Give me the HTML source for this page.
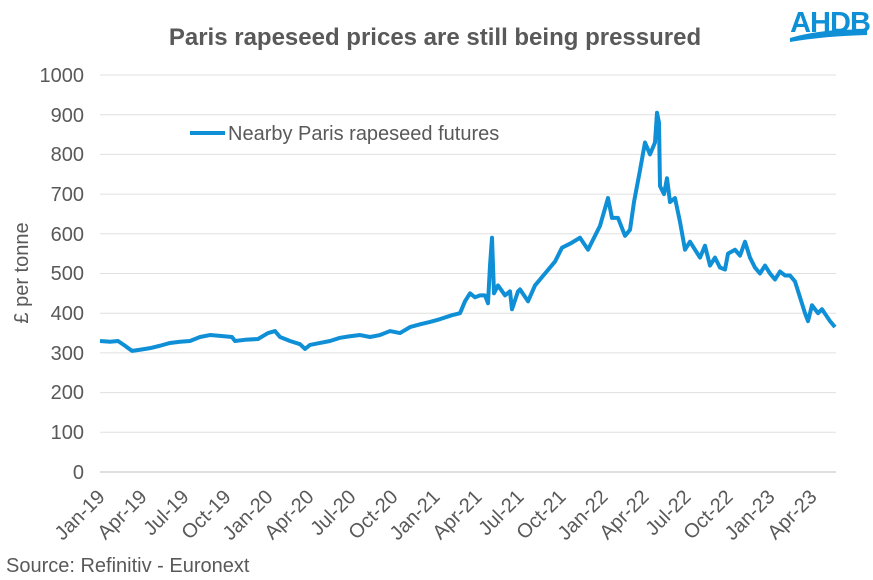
<!DOCTYPE html>
<html><head><meta charset="utf-8"><style>
body{margin:0;background:#fff;}
svg{display:block;font-family:"Liberation Sans",sans-serif;}
</style></head><body>
<svg width="873" height="580" viewBox="0 0 873 580">
<text x="435" y="45" text-anchor="middle" font-size="24" font-weight="bold" fill="#595959">Paris rapeseed prices are still being pressured</text>
<text x="830" y="32" text-anchor="middle" font-size="29" font-weight="bold" fill="#0f8fd6" letter-spacing="-1">AHDB</text>
<path d="M790 38 Q825 28 867 30 L867 35 Q825 36 790 42 Z" fill="#0f8fd6"/>
<g stroke="#e0e0e0" stroke-width="1">
<line x1="100" x2="836" y1="75" y2="75"/><line x1="100" x2="836" y1="114.7" y2="114.7"/><line x1="100" x2="836" y1="154.4" y2="154.4"/><line x1="100" x2="836" y1="194.1" y2="194.1"/><line x1="100" x2="836" y1="233.8" y2="233.8"/><line x1="100" x2="836" y1="273.5" y2="273.5"/><line x1="100" x2="836" y1="313.2" y2="313.2"/><line x1="100" x2="836" y1="352.9" y2="352.9"/><line x1="100" x2="836" y1="392.6" y2="392.6"/><line x1="100" x2="836" y1="432.3" y2="432.3"/>
</g>
<line x1="100" x2="836" y1="472" y2="472" stroke="#bfbfbf"/>
<g font-size="20" fill="#595959" text-anchor="end">
<text x="84" y="82">1000</text><text x="84" y="122">900</text><text x="84" y="161">800</text><text x="84" y="201">700</text><text x="84" y="241">600</text><text x="84" y="280">500</text><text x="84" y="320">400</text><text x="84" y="360">300</text><text x="84" y="399">200</text><text x="84" y="439">100</text><text x="84" y="479">0</text>
</g>
<text transform="translate(28,273) rotate(-90)" text-anchor="middle" font-size="20" fill="#595959">£ per tonne</text>
<g font-size="20" fill="#595959" text-anchor="end">
<text transform="translate(106,498) rotate(-45)">Jan-19</text>
<text transform="translate(148,498) rotate(-45)">Apr-19</text>
<text transform="translate(190,498) rotate(-45)">Jul-19</text>
<text transform="translate(232,498) rotate(-45)">Oct-19</text>
<text transform="translate(274,498) rotate(-45)">Jan-20</text>
<text transform="translate(315,498) rotate(-45)">Apr-20</text>
<text transform="translate(357,498) rotate(-45)">Jul-20</text>
<text transform="translate(399,498) rotate(-45)">Oct-20</text>
<text transform="translate(441,498) rotate(-45)">Jan-21</text>
<text transform="translate(483,498) rotate(-45)">Apr-21</text>
<text transform="translate(525,498) rotate(-45)">Jul-21</text>
<text transform="translate(567,498) rotate(-45)">Oct-21</text>
<text transform="translate(609,498) rotate(-45)">Jan-22</text>
<text transform="translate(650,498) rotate(-45)">Apr-22</text>
<text transform="translate(692,498) rotate(-45)">Jul-22</text>
<text transform="translate(734,498) rotate(-45)">Oct-22</text>
<text transform="translate(776,498) rotate(-45)">Jan-23</text>
<text transform="translate(818,498) rotate(-45)">Apr-23</text>
</g>
<g transform="translate(0,472) scale(1,-0.397)">
<polyline fill="none" stroke="#0f8fd6" stroke-width="4" vector-effect="non-scaling-stroke" stroke-linejoin="round" points="100,330 110,328 118,330 125,318 132,305 140,308 150,312 160,318 170,325 180,328 190,330 200,340 210,345 220,343 232,340 235,330 245,333 258,335 268,350 275,355 280,340 290,330 300,322 305,310 310,320 320,325 330,330 340,338 350,342 360,345 370,340 380,345 390,355 400,350 410,365 420,372 430,378 440,385 452,395 460,400 465,430 470,450 475,440 480,445 485,445 488,425 490,520 492,590 494,450 498,470 505,445 510,455 512,410 518,455 520,460 528,430 535,470 545,500 555,530 562,565 570,575 580,590 588,560 592,580 600,620 608,690 612,640 618,640 625,595 630,610 634,680 640,760 645,830 650,800 655,830 657,905 659,880 660,720 664,700 667,740 670,680 675,690 680,630 685,560 690,580 695,560 700,540 705,570 710,520 715,540 720,515 725,510 728,550 735,560 740,545 745,580 750,540 755,515 760,500 765,520 770,500 775,485 780,505 785,495 790,495 795,480 800,440 805,400 808,380 812,420 818,400 822,410 826,395 830,380 835,365"/>
</g>
<line x1="190" x2="225" y1="133" y2="133" stroke="#0f8fd6" stroke-width="4"/>
<text x="228" y="140" font-size="20" fill="#595959">Nearby Paris rapeseed futures</text>
<text x="6" y="572" font-size="20" fill="#595959">Source: Refinitiv - Euronext</text>
</svg>
</body></html>
